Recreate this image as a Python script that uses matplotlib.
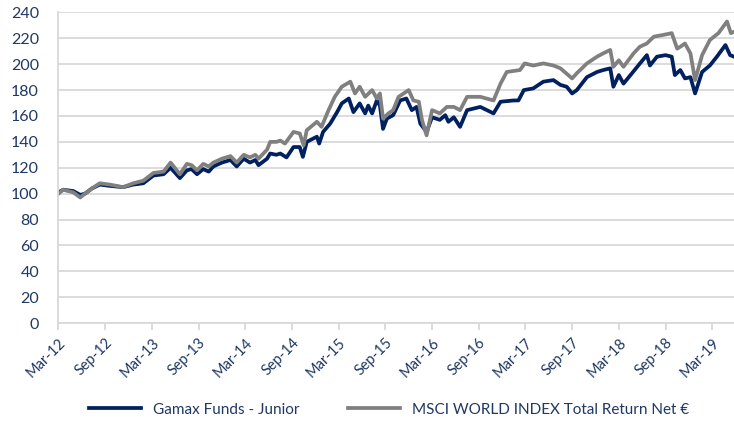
import matplotlib.pyplot as plt

# months since Mar-12, values rebased to 100
junior_m = [0, 0.6, 1.9, 2.8, 3.4, 4.3, 5.3, 6.6, 8.3, 9.6, 10.9, 12.2, 13.5, 14.4,
            15.6, 16.5, 17.1, 17.8, 18.6, 19.3, 19.9, 21.0, 22.1, 22.9, 23.8, 24.6,
            25.3, 25.7, 26.8, 27.2, 28.0,
            28.5, 29.3, 30.2, 31.0, 31.4, 31.9, 33.2, 33.5, 34.0, 34.9, 35.8, 36.4,
            37.3, 37.9, 38.7, 39.4, 39.8, 40.3, 40.9, 41.3, 41.7, 42.2, 43.0, 43.9,
            44.7, 45.4, 46.0, 46.5, 47.3, 48.0, 49.0, 49.7, 50.1, 50.8, 51.6, 52.5,
            54.2, 55.9, 56.8, 58.5, 59.1, 59.8, 61.0, 62.3, 63.6, 64.5, 65.3, 66.0,
            66.6, 67.9, 69.2, 70.0, 70.9, 71.3, 72.0, 72.6, 73.5, 74.5, 75.6, 76.0,
            76.9, 78.0, 78.8, 79.2, 79.9, 80.5, 81.2, 81.8, 82.7, 83.7, 84.6, 85.7,
            86.3, 86.8]
junior = [101, 103, 102, 99, 100, 104, 107, 106, 105, 107, 108, 114, 115, 120,
          112, 118, 119, 115, 119, 117, 121, 124, 126, 121, 127, 124,
          126, 122, 127, 131, 130,
          131, 128, 136, 136, 128.4, 140, 144, 138.7, 147.7, 154, 163, 169.7,
          173.5, 163, 169.7, 162, 168, 162, 172, 168, 150, 158, 160.6, 172,
          173.5, 164.5, 167, 154, 147.7, 159, 157, 160.6, 155.5, 159, 151.6, 164.5,
          167, 162, 171, 172, 172, 180, 181.3, 186.5, 187.7, 184, 182.6, 177.4,
          180, 190, 194, 195.5, 196.8, 182.6, 191.6, 185, 191.6, 199, 207, 199,
          205.8, 207, 205.8, 191.6, 195.5, 189, 190, 177.4, 194, 199, 205.8, 214.8,
          207, 205.8]

msci_m = [0, 0.6, 1.9, 2.8, 3.4, 4.3, 5.3, 6.6, 8.3, 9.6, 10.9, 12.2, 13.5, 14.4,
          15.6, 16.5, 17.1, 17.8, 18.6, 19.3, 19.9, 21.0, 22.1, 22.9, 23.8, 24.6,
          25.3, 25.7, 26.8, 27.2, 28.0,
          28.5, 29.1, 30.2, 31.0, 31.5, 31.9, 33.2, 33.8, 34.7, 35.5, 36.4, 37.5,
          38.1, 38.7, 39.4, 40.3, 40.9, 41.3, 41.7, 42.4, 43.0, 43.7, 45.0, 45.6,
          46.3, 46.7, 47.3, 48.0, 49.0, 49.9, 50.8, 51.6, 52.5, 54.2, 55.9, 56.8,
          57.6, 59.3, 59.9, 61.0, 62.3, 63.6, 64.5, 66.0, 66.6, 67.9, 69.2, 70.0,
          70.9, 71.3, 72.0, 72.6, 73.9, 74.7, 75.6, 76.5, 77.7, 78.8, 79.5, 79.9,
          80.5, 81.2, 81.8, 82.7, 83.7, 84.8, 85.9, 86.4, 86.8]
msci = [100, 103, 101, 97, 100, 104, 108, 107, 105, 108, 110, 116, 117, 124,
        115, 123, 122, 118, 123, 121, 124, 127, 129, 124, 130, 128,
        130, 127, 134, 140, 140,
        141, 138.7, 147.7, 146.5, 137.4, 149, 155.5, 151.6, 164.5, 174.8, 182.6, 186.5,
        177.4, 182.6, 174.8, 180, 173.5, 177.4, 158, 162, 164.5, 174.8, 180, 172,
        171, 157, 145, 164.5, 162, 167, 167, 164.5, 174.8, 174.8, 172, 185,
        194, 195.5, 200.6, 199, 200.6, 199, 196.8, 189, 193, 200.6, 205.8, 208.4,
        211, 198, 203, 198, 208.4, 213.5, 216, 221.3, 222.6, 224, 212, 213.5,
        216, 208.4, 187.7, 207, 218.7, 224, 233, 224, 225]

tick_months = list(range(0, 85, 6))
tick_labels = ['Mar-12', 'Sep-12', 'Mar-13', 'Sep-13', 'Mar-14', 'Sep-14', 'Mar-15',
               'Sep-15', 'Mar-16', 'Sep-16', 'Mar-17', 'Sep-17', 'Mar-18', 'Sep-18',
               'Mar-19']

plt.rcParams['font.family'] = ['Lato', 'DejaVu Sans']
txt_col = '#1F3864'
grid_col = '#D9D9D9'

fig = plt.figure(figsize=(7.34, 4.36), dpi=100)
ax = fig.add_axes([0.0797, 0.259, 0.9203, 0.7125])

ax.plot(junior_m, junior, color='#002060', lw=2.7, label='Gamax Funds - Junior')
ax.plot(msci_m, msci, color='#808080', lw=2.7,
        label='MSCI WORLD INDEX Total Return Net €')

ax.set_xlim(0, 86.8)
ax.set_ylim(0, 240)
ax.set_yticks(range(0, 241, 20))
ax.set_xticks(tick_months)
ax.set_xticklabels(tick_labels, rotation=45, ha='right', rotation_mode='anchor')
ax.grid(axis='y', color=grid_col, lw=1.3)
ax.set_axisbelow(True)
for s in ['top', 'right']:
    ax.spines[s].set_visible(False)
for s in ['left', 'bottom']:
    ax.spines[s].set_color(grid_col)
    ax.spines[s].set_linewidth(1.3)
ax.tick_params(axis='y', length=0, pad=14, labelsize=11.5, labelcolor=txt_col)
ax.tick_params(axis='x', length=5, width=1.3, color=grid_col, pad=4,
               labelsize=10.5, labelcolor=txt_col)

fig.legend(loc='center', bbox_to_anchor=(0.53, 0.06), ncol=2, frameon=False,
           fontsize=11, handlelength=3.4, columnspacing=3.2, labelcolor=txt_col)

plt.savefig('out.png', dpi=100)
